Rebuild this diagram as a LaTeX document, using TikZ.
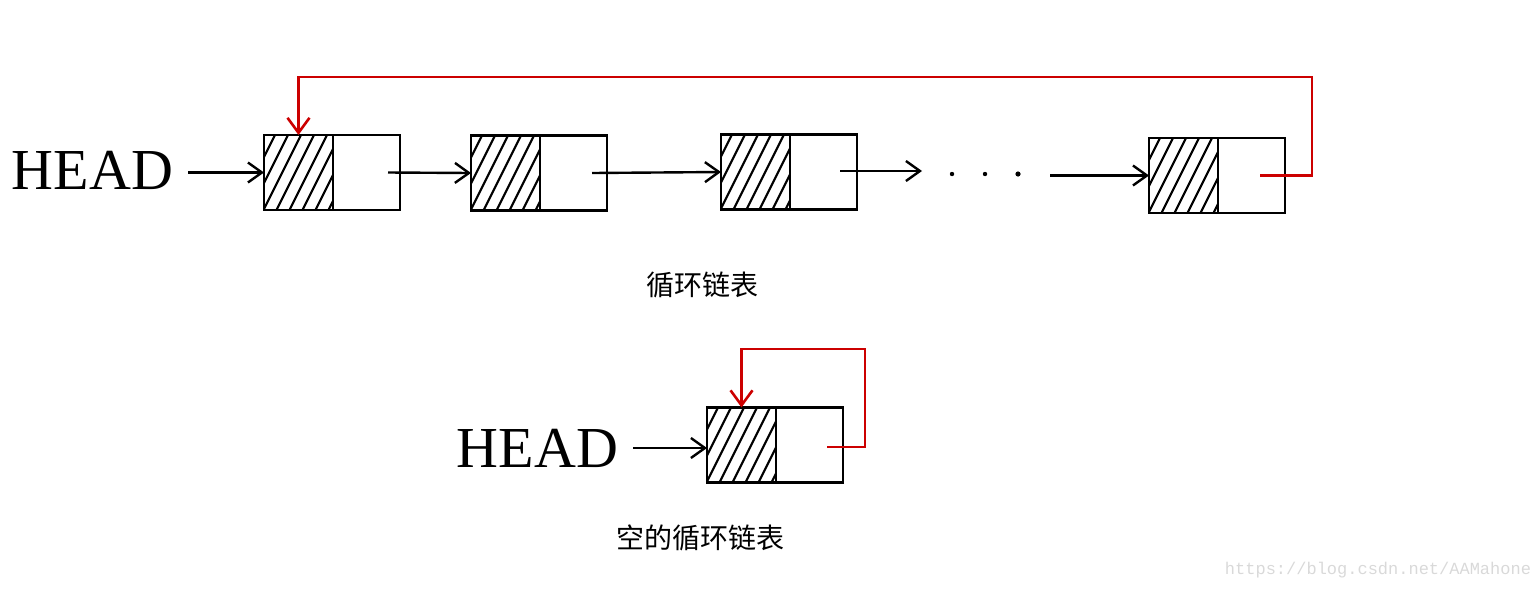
\documentclass[tikz,border=0pt]{standalone}
\usepackage{fontspec}
\setmainfont{Liberation Serif}
\newfontfamily\cjk{Noto Sans CJK SC}
\newfontfamily\wmfont{Liberation Mono}
\usetikzlibrary{arrows.meta,calc}
\definecolor{linkred}{RGB}{204,0,0}
\begin{document}
\begin{tikzpicture}[x=1pt,y=-1pt,
  box/.style={draw,line width=2.5pt,minimum height=75pt,inner sep=0pt,outer sep=0pt},
  databox/.style={box,minimum width=69pt,
    path picture={\foreach \i in {-4,...,6}
      \draw[line width=2.1pt] ([xshift=\i*13pt-2pt,yshift=-3pt]path picture bounding box.south west) -- ++(42pt,84pt);}},
  ptrbox/.style={box,minimum width=67pt,anchor=west},
  headtxt/.style={inner sep=0pt,font=\fontsize{58}{62}\selectfont},
  arr/.style={line width=2.4pt,-{Straight Barb[length=14pt,width=20pt]}},
  redarr/.style={draw=linkred,line width=2.6pt,-{Straight Barb[length=15pt,width=22pt]}},
  captxt/.style={font=\cjk\fontsize{28}{32}\selectfont},
]
\useasboundingbox (0,0) rectangle (1539,590);

% top row
\node[headtxt] (h1) at (92.5,170) {HEAD};
\node[databox] (n1a) at (298.5,172.5) {};
\node[ptrbox] (n1b) at (n1a.east) {};
\node[databox] (n2a) at (505.5,173) {};
\node[ptrbox] (n2b) at (n2a.east) {};
\node[databox] (n3a) at (755.5,172) {};
\node[ptrbox] (n3b) at (n3a.east) {};
\node[databox] (n4a) at (1183.5,175.5) {};
\node[ptrbox] (n4b) at (n4a.east) {};

\coordinate (free1) at (922,171);
\coordinate (free2) at (1050,175.5);

\draw[arr,shorten <=15pt] (n1a.west -| h1.east) -- (n1a.west);
\draw[arr] ([xshift=-12pt]n1b.east) -- (n2a.west);
\draw[arr] ([xshift=-15pt]n2b.east) -- (n3a.west);
\draw[arr] ([xshift=-17pt]n3b.east |- free1) -- (free1);
\fill (952,174) circle (2.2pt) (985,174) circle (2.2pt) (1018,174) circle (2.6pt);
\draw[arr] (free2) -- (n4a.west);

\draw[redarr] ([xshift=-25pt]n4b.east) -| (1312,77) -| (n1a.north);

\node[captxt] (c1) at (702,285) {循环链表};

% bottom
\node[headtxt] (h2) at (537.5,448) {HEAD};
\node[databox] (n5a) at (741.5,445) {};
\node[ptrbox] (n5b) at (n5a.east) {};
\draw[arr] ([xshift=15pt]h2.east) -- (h2.east -| n5a.west);
\draw[redarr] ([xshift=-16pt,yshift=-2pt]n5b.east) -| (865,349) -| (n5a.north);

\node[captxt] (c2) at (700,538) {空的循环链表};

\node[font=\wmfont\fontsize{17}{20}\selectfont,text=black!15] (wm) at (1378,570) {https://blog.csdn.net/AAMahone};
\end{tikzpicture}
\end{document}
